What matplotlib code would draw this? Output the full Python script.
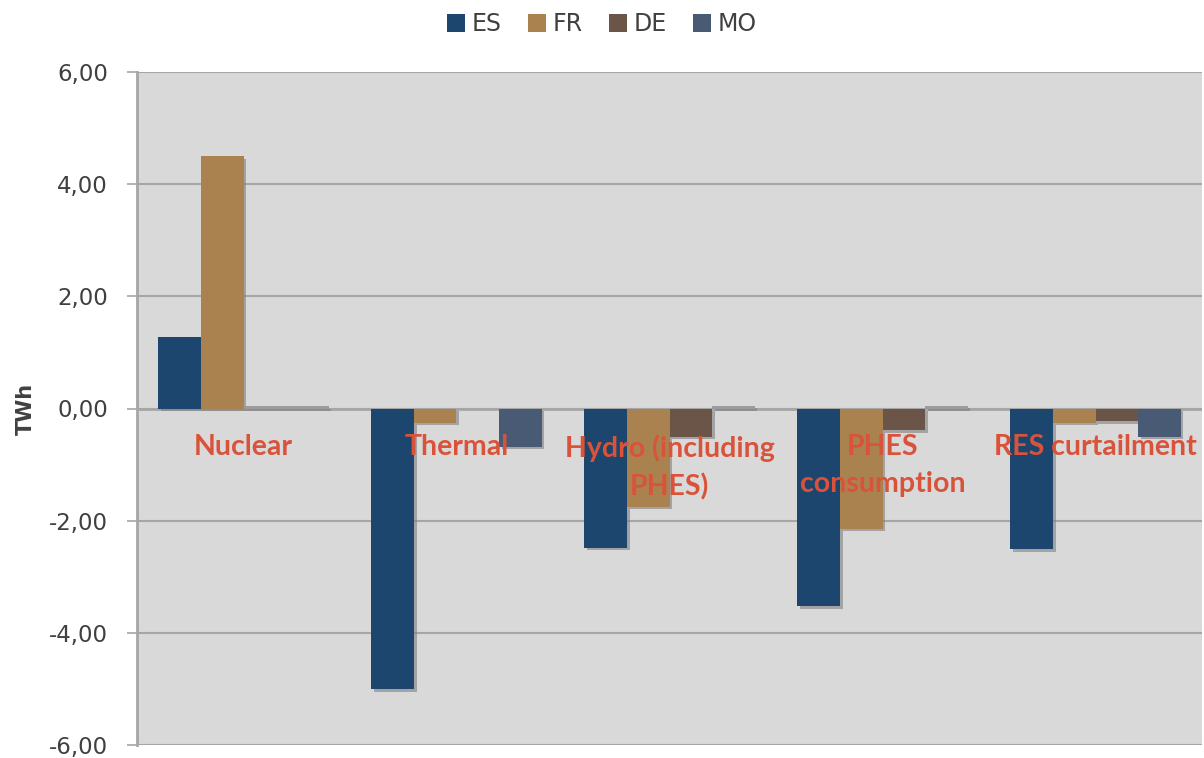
import matplotlib.pyplot as plt
import matplotlib.patheffects as pe
from matplotlib.patches import Patch
from matplotlib.ticker import FuncFormatter
import numpy as np

# Change in generation per technology and country (TWh)
categories = ["Nuclear", "Thermal", "Hydro (including\nPHES)", "PHES\nconsumption", "RES curtailment"]
countries = ["ES", "FR", "DE", "MO"]
es_vals = [1.28, -5.00, -2.48, -3.52, -2.51]
fr_vals = [4.50, -0.25, -1.75, -2.14, -0.25]
de_vals = [0.04, 0.00, -0.50, -0.39, -0.23]
mo_vals = [0.04, -0.68, 0.05, 0.05, -0.50]
y_ticks = [-6, -4, -2, 0, 2, 4, 6]

colors = ["#1c466e", "#a9824f", "#6a5548", "#485a74"]
label_red = "#d9533a"
grid_grey = "#a6a6a6"
text_grey = "#404040"

fig = plt.figure(figsize=(12.04, 7.58), dpi=100)
ax = fig.add_axes([137 / 1204, 13 / 758, 1065 / 1204, 673 / 758])
ax.set_facecolor("#d9d9d9")

x = np.arange(len(categories))
width = 0.2
shadow = [pe.SimplePatchShadow(offset=(2, -2), shadow_rgbFace="#7f7f7f", alpha=0.6), pe.Normal()]

series = [es_vals, fr_vals, de_vals, mo_vals]
for i, (vals, col) in enumerate(zip(series, colors)):
    bars = ax.bar(x + (i - 1.5) * width, vals, width, color=col, linewidth=0, zorder=3)
    for patch, v in zip(bars, vals):
        patch.set_path_effects(shadow)
        # tiny values only show their bevel edge
        if 0 < abs(v) < 0.1:
            patch.set_facecolor("#9b9b9b")

ax.set_xlim(-0.5, len(categories) - 0.5)
ax.set_ylim(-6, 6)
ax.set_yticks(y_ticks)
ax.yaxis.set_major_formatter(FuncFormatter(lambda v, p: f"{v:.2f}".replace(".", ",")))
ax.grid(axis="y", color=grid_grey, linewidth=1.5, zorder=0)
ax.axhline(0, color=grid_grey, linewidth=2, zorder=2)
ax.set_xticks([])

for s in ["top", "right", "bottom"]:
    ax.spines[s].set_visible(False)
ax.spines["left"].set_color(grid_grey)
ax.spines["left"].set_linewidth(2)
ax.tick_params(axis="y", colors=grid_grey, length=7, width=1.2, labelcolor=text_grey,
               labelsize=16.5, pad=14)

ax.set_ylabel("TWh", fontsize=15, fontweight="bold", color=text_grey, labelpad=9)

for xi, name in zip(x, categories):
    ax.text(xi, -0.46, name, ha="center", va="top", fontsize=20.5, fontweight="bold",
            color=label_red, family="Lato", linespacing=1.5, zorder=5)

handles = [Patch(facecolor=c, edgecolor="none") for c in colors]
fig.legend(handles, countries, loc="upper center", bbox_to_anchor=(0.5, 1.012), ncol=4,
           frameon=False, fontsize=17, handlelength=0.75, handleheight=0.75,
           handletextpad=0.3, columnspacing=1.1, labelcolor=text_grey)

fig.savefig("out.png", dpi=100)
